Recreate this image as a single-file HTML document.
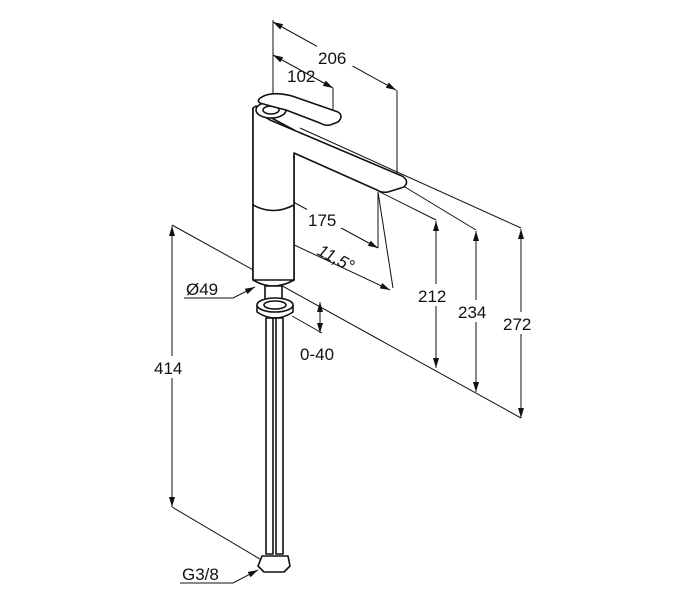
<!DOCTYPE html>
<html><head><meta charset="utf-8"><style>
html,body{margin:0;padding:0;background:#fff;}
svg{display:block;}
text{font-family:"Liberation Sans",sans-serif;font-size:17px;fill:#111;}
</style></head><body>
<svg width="700" height="600" viewBox="0 0 700 600" xmlns="http://www.w3.org/2000/svg">
<defs>
<marker id="a" viewBox="0 0 10 6" refX="10" refY="3" markerWidth="10" markerHeight="6" orient="auto-start-reverse" markerUnits="userSpaceOnUse"><path d="M0,0 L10,3 L0,6 z" fill="#111"/></marker>
</defs>
<g stroke="#111" stroke-width="1" fill="none">
<line x1="273" y1="20" x2="273" y2="240"/>
<line x1="397" y1="90" x2="397" y2="182"/>
<line x1="333" y1="88" x2="333" y2="113"/>
<line x1="378" y1="192" x2="378" y2="248"/>
<line x1="378" y1="192" x2="393" y2="288"/>
<line x1="380" y1="192" x2="436" y2="220"/>
<line x1="400" y1="184" x2="476" y2="230"/>
<line x1="300" y1="128" x2="521" y2="228"/>
<line x1="172" y1="225" x2="521" y2="418"/>
<line x1="172" y1="507" x2="265" y2="562"/>
<line x1="292" y1="316" x2="322" y2="333"/>
<line x1="273" y1="22" x2="396" y2="90" marker-start="url(#a)" marker-end="url(#a)"/>
<line x1="273" y1="55" x2="333" y2="88" marker-start="url(#a)" marker-end="url(#a)"/>
<line x1="273" y1="191" x2="378" y2="248" marker-start="url(#a)" marker-end="url(#a)"/>
<line x1="273" y1="235" x2="390" y2="290" marker-start="url(#a)" marker-end="url(#a)"/>
<line x1="436" y1="221" x2="436" y2="368" marker-start="url(#a)" marker-end="url(#a)"/>
<line x1="476" y1="231" x2="476" y2="392" marker-start="url(#a)" marker-end="url(#a)"/>
<line x1="521" y1="229" x2="521" y2="418" marker-start="url(#a)" marker-end="url(#a)"/>
<line x1="172" y1="226" x2="172" y2="507" marker-start="url(#a)" marker-end="url(#a)"/>
<line x1="320" y1="302" x2="320" y2="333" marker-start="url(#a)" marker-end="url(#a)"/>
<polyline points="184,298 233,298 255,287" marker-end="url(#a)"/>
<polyline points="180,583 233,583 258,570" marker-end="url(#a)"/>
</g>
<g stroke="#111" stroke-width="1.6" fill="#fff" stroke-linejoin="round">
<!-- body -->
<path d="M253,108 L253,280 Q273,292 294,280 L294,130 Z" />
<!-- spout -->
<path d="M256,106 Q262,116 270,120 L402,176 Q410,181 404,187 L388,192 Q381,193 377,190 L294,153 L294,280 L253,280 L253,108 Z"/>
<path d="M253,205 Q273,216 294,205" fill="none"/>
<line x1="294" y1="156" x2="294" y2="158"/>
<rect x="265" y="286" width="17" height="20"/>
<path d="M257,305 L257,312 Q275,324 293,312 L293,305" />
<ellipse cx="275" cy="305" rx="18" ry="7"/>
<ellipse cx="275" cy="305" rx="11" ry="4"/>
<rect x="266" y="318" width="7" height="236"/>
<rect x="276" y="318" width="7" height="236"/>
<path d="M262,556 L288,556 L290,566 L284,572 L264,572 L258,566 Z"/>
<ellipse cx="271" cy="110" rx="15" ry="8"/>
<ellipse cx="271" cy="110" rx="8" ry="4"/>
<path d="M262,97 Q272,91 292,96 L338,112 Q344,116 338,122 L330,125 Q325,126 320,123 L286,110 Q270,106 260,103 Q256,100 262,97 Z"/>
</g>
<g>
<rect x="317" y="44" width="38" height="22" fill="#fff"/>
<text x="318" y="64">206</text>
<text x="287" y="82">102</text>
<rect x="307" y="206" width="38" height="22" fill="#fff"/>
<text x="308" y="226">175</text>
<text x="318" y="263" transform="rotate(28 335 255)" font-style="italic">11,5°</text>
<rect x="417" y="284" width="38" height="22" fill="#fff"/>
<text x="418" y="302">212</text>
<rect x="457" y="300" width="38" height="22" fill="#fff"/>
<text x="458" y="318">234</text>
<rect x="502" y="312" width="38" height="22" fill="#fff"/>
<text x="503" y="330">272</text>
<rect x="153" y="356" width="38" height="22" fill="#fff"/>
<text x="154" y="374">414</text>
<text x="186" y="295">Ø49</text>
<text x="300" y="360">0-40</text>
<text x="182" y="580">G3/8</text>
</g>
</svg>
</body></html>
